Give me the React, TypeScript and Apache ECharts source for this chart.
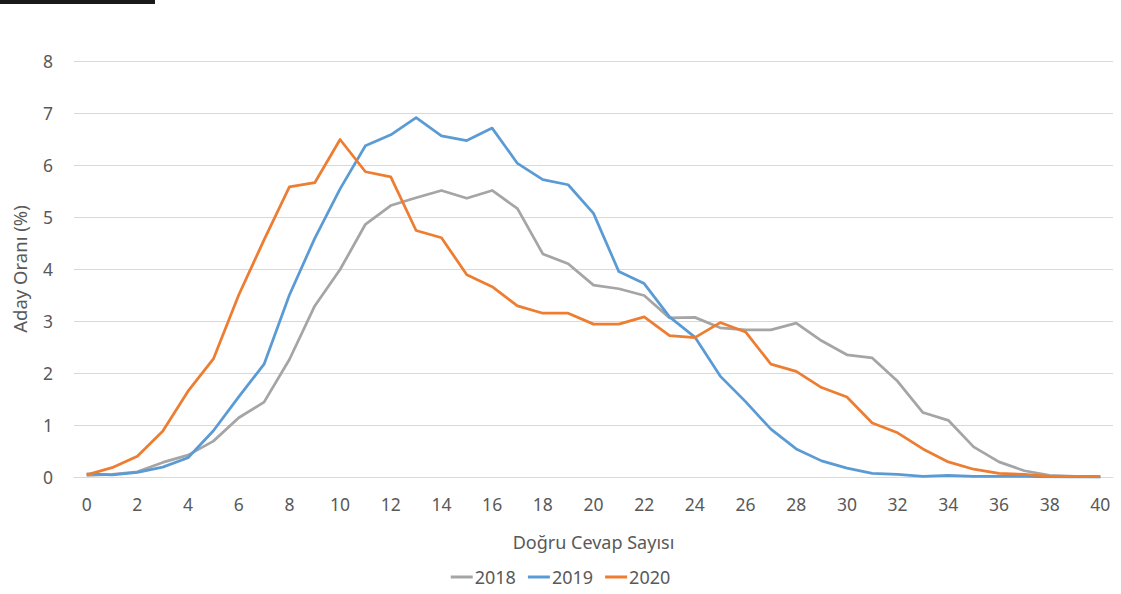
import React, { useEffect, useRef } from "react";
import * as echarts from "echarts";

const categories: number[] = Array.from({ length: 41 }, (_, i) => i);
const xTickLabels: number[] = [0, 2, 4, 6, 8, 10, 12, 14, 16, 18, 20, 22, 24, 26, 28, 30, 32, 34, 36, 38, 40];

const series2018: number[] = [
  0.03, 0.05, 0.1, 0.28, 0.42, 0.69, 1.14, 1.44, 2.26, 3.29, 3.99, 4.86, 5.22, 5.37, 5.51, 5.36,
  5.51, 5.16, 4.29, 4.1, 3.69, 3.62, 3.49, 3.06, 3.07, 2.87, 2.83, 2.83, 2.96, 2.62, 2.35, 2.29,
  1.84, 1.24, 1.09, 0.58, 0.29, 0.12, 0.03, 0.01, 0.0,
];
const series2019: number[] = [
  0.06, 0.04, 0.09, 0.19, 0.37, 0.89, 1.54, 2.17, 3.5, 4.59, 5.54, 6.37, 6.58, 6.91, 6.56, 6.47,
  6.71, 6.03, 5.72, 5.62, 5.07, 3.95, 3.72, 3.08, 2.69, 1.94, 1.45, 0.92, 0.54, 0.31, 0.17, 0.07,
  0.05, 0.01, 0.03, 0.01, 0.01, 0.01, 0.0, 0.0, 0.0,
];
const series2020: number[] = [
  0.04, 0.18, 0.4, 0.88, 1.65, 2.27, 3.5, 4.56, 5.58, 5.66, 6.49, 5.87, 5.77, 4.74, 4.6, 3.89,
  3.66, 3.29, 3.15, 3.15, 2.94, 2.94, 3.08, 2.72, 2.68, 2.97, 2.79, 2.17, 2.03, 1.72, 1.54, 1.04,
  0.85, 0.54, 0.29, 0.15, 0.07, 0.05, 0.01, 0.01, 0.01,
];
const seriesNames: string[] = ["2018", "2019", "2020"];
const colors: string[] = ["#A5A5A5", "#5B9BD5", "#ED7D31"];

const FONT = "'Noto Sans', 'Open Sans', sans-serif";
const TEXT = "#595959";

export default function App() {
  const ref = useRef<HTMLDivElement>(null);
  useEffect(() => {
    document.body.style.margin = "0";
    if (!ref.current) return;
    const chart = echarts.init(ref.current, null, { renderer: "svg" });
    const data = [series2018, series2019, series2020];
    chart.setOption({
      animation: false,
      textStyle: { fontFamily: FONT, color: TEXT },
      grid: { left: 74, right: 8, top: 61, bottom: 117, containLabel: false, outerBoundsMode: "none" },
      graphic: [
        { type: "rect", left: 0, top: 0, shape: { x: 0, y: 0, width: 155, height: 4 }, style: { fill: "#1a1a1a" } },
      ],
      legend: {
        data: seriesNames,
        top: 563,
        left: "center",
        icon: "rect",
        itemWidth: 22,
        itemHeight: 3,
        itemGap: 12,
        textStyle: { fontFamily: FONT, color: TEXT, fontSize: 18, padding: [0, 0, 0, -3] },
      },
      xAxis: {
        type: "value",
        min: -0.5,
        max: 40.5,
        name: "Doğru Cevap Sayısı",
        nameLocation: "middle",
        nameGap: 56,
        nameTextStyle: { fontFamily: FONT, color: TEXT, fontSize: 18 },
        axisLine: { show: true, onZero: false, lineStyle: { color: "#D9D9D9", width: 1 } },
        axisTick: { show: false },
        axisLabel: { customValues: xTickLabels, color: TEXT, fontSize: 17.5, fontFamily: FONT, margin: 18 },
        splitLine: { show: false },
      },
      yAxis: {
        type: "value",
        min: 0,
        max: 8,
        interval: 1,
        name: "Aday Oranı (%)",
        nameLocation: "middle",
        nameGap: 45,
        nameRotate: 90,
        nameTextStyle: { fontFamily: FONT, color: TEXT, fontSize: 18.5 },
        axisLine: { show: false },
        axisTick: { show: false },
        axisLabel: { color: TEXT, fontSize: 17.5, fontFamily: FONT, margin: 21 },
        splitLine: { show: true, lineStyle: { color: "#D9D9D9", width: 1 } },
      },
      series: data.map((d, i) => ({
        name: seriesNames[i],
        type: "line",
        data: d.map((v, k) => [categories[k], v]),
        showSymbol: false,
        symbol: "none",
        color: colors[i],
        lineStyle: { color: colors[i], width: 2.75, join: "round" },
        z: 2 + i,
      })),
    });
    return () => chart.dispose();
  }, []);
  return <div ref={ref} style={{ width: 1121, height: 594 }} />;
}
